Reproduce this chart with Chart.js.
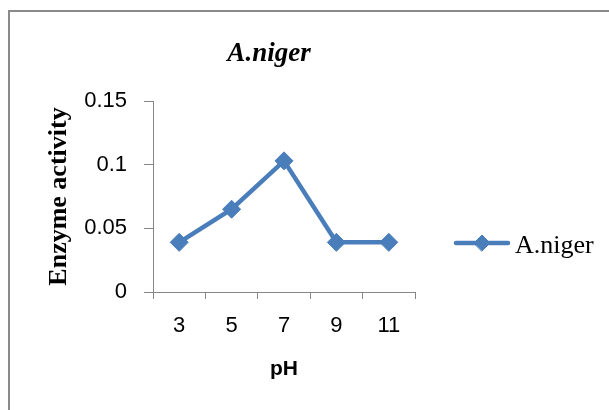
<!DOCTYPE html>
<html>
<head>
<meta charset="utf-8">
<script src="https://cdn.jsdelivr.net/npm/chart.js@4"></script>
<style>
  html, body { margin: 0; padding: 0; background: #fff; overflow: hidden; }
  canvas { display: block; }
</style>
</head>
<body>
<canvas id="myChart" width="609" height="410"></canvas>
<script>
var chartTitle = 'A.niger';
var seriesName = 'A.niger';
var phLabels = ['3', '5', '7', '9', '11'];
var activity = [0.039, 0.065, 0.103, 0.039, 0.039];
var yTicks = [0, 0.05, 0.1, 0.15];

var blue = '#4A7EBB';
var axisGray = '#868686';

// outer frame (only the left and top edges fall inside the canvas)
var frame = {
    id: 'frame',
    beforeDraw: function (chart) {
        var ctx = chart.ctx;
        ctx.save();
        ctx.fillStyle = '#fff';
        ctx.fillRect(0, 0, chart.width, chart.height);
        ctx.strokeStyle = '#8a8a8a';
        ctx.lineWidth = 2;
        ctx.beginPath();
        ctx.moveTo(9, chart.height);
        ctx.lineTo(9, 11);
        ctx.lineTo(chart.width, 11);
        ctx.stroke();
        ctx.restore();
    }
};

// title and the line+diamond key are drawn by hand
var titleAndKey = {
    id: 'titleAndKey',
    afterDraw: function (chart) {
        var ctx = chart.ctx;
        var ds = chart.data.datasets[0];
        ctx.save();
        ctx.fillStyle = '#000';
        ctx.textAlign = 'center';
        ctx.textBaseline = 'alphabetic';
        ctx.font = 'italic bold 27px "Liberation Serif"';
        ctx.fillText(chartTitle, 269, 61);

        var ky = 243;
        ctx.strokeStyle = ds.borderColor;
        ctx.lineWidth = ds.borderWidth;
        ctx.lineCap = 'round';
        ctx.beginPath();
        ctx.moveTo(456, ky);
        ctx.lineTo(508, ky);
        ctx.stroke();
        ctx.fillStyle = ds.pointBackgroundColor;
        ctx.lineWidth = 1;
        Chart.helpers.drawPoint(ctx, { pointStyle: 'rectRot', radius: 8, borderWidth: 1, rotation: 0 }, 482, ky);

        ctx.fillStyle = '#000';
        ctx.textAlign = 'left';
        ctx.font = '26px "Liberation Serif"';
        ctx.fillText(ds.label, 515, 253);
        ctx.restore();
    }
};

var ctx = document.getElementById('myChart').getContext('2d');
var myChart = new Chart(ctx, {
    type: 'line',
    data: {
        labels: phLabels,
        datasets: [{
            label: seriesName,
            data: activity,
            borderColor: blue,
            backgroundColor: blue,
            borderWidth: 4.5,
            tension: 0,
            pointStyle: 'rectRot',
            pointRadius: 9,
            pointBorderWidth: 1,
            pointBackgroundColor: blue,
            pointBorderColor: blue
        }]
    },
    options: {
        responsive: false,
        animation: false,
        devicePixelRatio: 1,
        layout: {
            padding: { left: 36, right: 194, top: 101, bottom: 0 }
        },
        plugins: {
            legend: { display: false },
            title: { display: false },
            tooltip: { enabled: false }
        },
        scales: {
            x: {
                offset: true,
                grid: { drawOnChartArea: false, offset: true, tickLength: 7, color: axisGray },
                border: { color: axisGray, width: 1 },
                ticks: {
                    color: '#000',
                    padding: 14,
                    font: { family: 'Liberation Sans', size: 22 }
                },
                title: {
                    display: true,
                    text: 'pH',
                    color: '#000',
                    padding: { top: 0, bottom: 28 },
                    font: { family: 'Liberation Sans', size: 21, weight: 'bold' }
                },
                afterFit: function (scale) { scale.height = 118; }
            },
            y: {
                min: 0,
                max: 0.15,
                afterBuildTicks: function (scale) {
                    scale.ticks = yTicks.map(function (v) { return { value: v }; });
                },
                grid: { drawOnChartArea: false, tickLength: 9, color: axisGray },
                border: { color: axisGray, width: 1 },
                ticks: {
                    color: '#000',
                    padding: 17,
                    font: { family: 'Liberation Sans', size: 22 },
                    callback: function (value) { return String(value); }
                },
                title: {
                    display: true,
                    text: 'Enzyme activity',
                    color: '#000',
                    padding: { top: 8, bottom: 0 },
                    font: { family: 'Liberation Serif', size: 26, weight: 'bold' }
                },
                afterFit: function (scale) { scale.width = 117; }
            }
        }
    },
    plugins: [frame, titleAndKey]
});
</script>
</body>
</html>
